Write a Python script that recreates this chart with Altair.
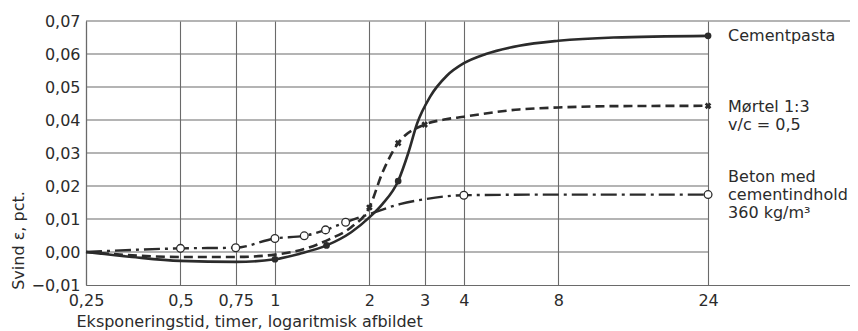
import altair as alt
import pandas as pd

# ---- axis ticks ----
x_ticks = [0.25, 0.5, 0.75, 1, 2, 3, 4, 8, 24]
y_ticks = [-0.01, 0.0, 0.01, 0.02, 0.03, 0.04, 0.05, 0.06, 0.07]

# ---- Cementpasta (solid, filled dots) ----
cem_t = [0.25, 0.35, 0.5, 0.75, 1.0, 1.2, 1.46, 1.75, 2.0, 2.2, 2.47, 2.66, 2.84, 3.12, 3.53, 4.0, 4.7, 6.0, 8.0, 12.0, 24.0]
cem_v = [0.0, -0.0015, -0.0027, -0.003, -0.0022, -0.0005, 0.002, 0.006, 0.0105, 0.0145, 0.0215, 0.030, 0.039, 0.047, 0.0534, 0.0572, 0.060, 0.0625, 0.064, 0.065, 0.0655]
cem_mark_t = [1.0, 1.46, 2.47, 24.0]
cem_mark_v = [-0.0022, 0.002, 0.0215, 0.0655]

# ---- Mørtel 1:3 (dashed, x markers) ----
mor_t = [0.25, 0.5, 0.75, 1.0, 1.25, 1.5, 1.75, 2.0, 2.2, 2.47, 3.0, 3.5, 4.0, 6.0, 8.0, 12.0, 24.0]
mor_v = [0.0, -0.0015, -0.0015, -0.0008, 0.001, 0.004, 0.0075, 0.0135, 0.024, 0.033, 0.0386, 0.0402, 0.041, 0.0432, 0.0438, 0.0442, 0.0443]
mor_mark_t = [2.0, 2.47, 3.0, 24.0]
mor_mark_v = [0.0135, 0.033, 0.0386, 0.0443]

# ---- Beton (dash-dot, open circles) ----
bet_t = [0.25, 0.5, 0.75, 1.0, 1.24, 1.45, 1.68, 2.0, 2.5, 3.0, 4.0, 8.0, 24.0]
bet_v = [0.0, 0.0011, 0.0013, 0.0041, 0.0049, 0.0067, 0.009, 0.0115, 0.0145, 0.016, 0.0172, 0.0174, 0.0174]
bet_mark_t = [0.5, 0.75, 1.0, 1.24, 1.45, 1.68, 4.0, 24.0]
bet_mark_v = [0.0011, 0.0013, 0.0041, 0.0049, 0.0067, 0.009, 0.0172, 0.0174]

# ---- labels ----
lab_cem = "Cementpasta"
lab_mor = "Mørtel 1:3\nv/c = 0,5"
lab_bet = "Beton med\ncementindhold\n360 kg/m³"

INK = "#2b2b2b"
GRID = "#6a6a6a"
FONT = "DejaVu Sans"

xs = alt.Scale(type="log", domain=[0.25, 68], nice=False)
ys = alt.Scale(domain=[-0.01, 0.07], nice=False, zero=False)


def df(t, v):
    return pd.DataFrame({"t": t, "v": v})


X = alt.X("t:Q", scale=xs, axis=alt.Axis(
    values=x_ticks, grid=True, gridColor=GRID, gridWidth=1.1, gridOpacity=1,
    ticks=False, domain=True, domainColor=GRID, domainWidth=1.2,
    labelExpr="replace(format(datum.value, ''), '.', ',')",
    labelFont=FONT, labelFontSize=16, labelColor=INK, labelPadding=7,
    labelFlush=False, labelOverlap=False,
    title="Eksponeringstid, timer, logaritmisk afbildet",
    titleFont=FONT, titleFontSize=16, titleFontWeight="normal", titleColor=INK,
    titleX=-10, titleY=36, titleAlign="left", titleBaseline="middle"))
Y = alt.Y("v:Q", scale=ys, axis=alt.Axis(
    values=y_ticks, grid=False, ticks=False, domain=True, domainColor=GRID, domainWidth=1.2,
    labelExpr="replace(format(datum.value, '.2f'), '.', ',')",
    labelFont=FONT, labelFontSize=16, labelColor=INK, labelPadding=6,
    labelFlush=False, labelOverlap=False,
    title="Svind ε, pct.", titleFont=FONT, titleFontSize=16, titleFontWeight="normal",
    titleColor=INK, titleX=-68, titleY=219, titleAngle=270, titleAlign="center",
    titleBaseline="middle"))

# horizontal grid, stops at 24
n_inner = len(y_ticks) - 2
hgrid = alt.Chart(pd.DataFrame({"v": y_ticks[1:-1], "t": [x_ticks[0]] * n_inner,
                                "t2": [x_ticks[-1]] * n_inner})).mark_rule(
    color=GRID, strokeWidth=1.1).encode(x=X, x2="t2:Q", y=Y)
top = alt.Chart(pd.DataFrame({"v": [y_ticks[-1]], "t": [0.25], "t2": [68]})).mark_rule(
    color=GRID, strokeWidth=1.2).encode(x=X, x2="t2:Q", y=Y)

cem_line = alt.Chart(df(cem_t, cem_v)).mark_line(
    color=INK, strokeWidth=2.6, interpolate="monotone").encode(x=X, y=Y)
mor_line = alt.Chart(df(mor_t, mor_v)).mark_line(
    color=INK, strokeWidth=2.6, strokeDash=[9, 5], interpolate="monotone").encode(x=X, y=Y)
bet_line = alt.Chart(df(bet_t, bet_v)).mark_line(
    color=INK, strokeWidth=2.4, strokeDash=[16, 5, 3, 5], interpolate="monotone").encode(x=X, y=Y)

cem_pts = alt.Chart(df(cem_mark_t, cem_mark_v)).mark_point(
    shape="circle", filled=True, size=45, color=INK, opacity=1).encode(x=X, y=Y)
mor_pts = alt.Chart(df(mor_mark_t, mor_mark_v)).mark_point(
    shape="cross", filled=True, size=45, angle=45, color=INK, opacity=1).encode(x=X, y=Y)
bet_pts = alt.Chart(df(bet_mark_t, bet_mark_v)).mark_point(
    shape="circle", filled=True, size=60, fill="white", stroke=INK, strokeWidth=1.3, opacity=1).encode(x=X, y=Y)


def label(text, t, v, dy):
    return alt.Chart(df([t], [v])).mark_text(
        text=text, lineBreak="\n", lineHeight=18, align="left", baseline="middle",
        dx=20, dy=dy, font=FONT, fontSize=16, color=INK).encode(x=X, y=Y)


labels = (label(lab_cem, cem_t[-1], cem_v[-1], 0)
          + label(lab_mor, mor_t[-1], mor_v[-1], 1)
          + label(lab_bet, bet_t[-1], bet_v[-1], -18))

chart = alt.layer(
    hgrid, top, bet_line, mor_line, cem_line, bet_pts, mor_pts, cem_pts, labels
).properties(
    width=764, height=264,
    autosize=alt.AutoSizeParams(type="none"),
    padding={"left": 78, "top": 13, "right": 0, "bottom": 46},
    background="white",
).configure_view(stroke=None)

chart.save("out.html", embed_options={"renderer": "svg", "actions": False})
